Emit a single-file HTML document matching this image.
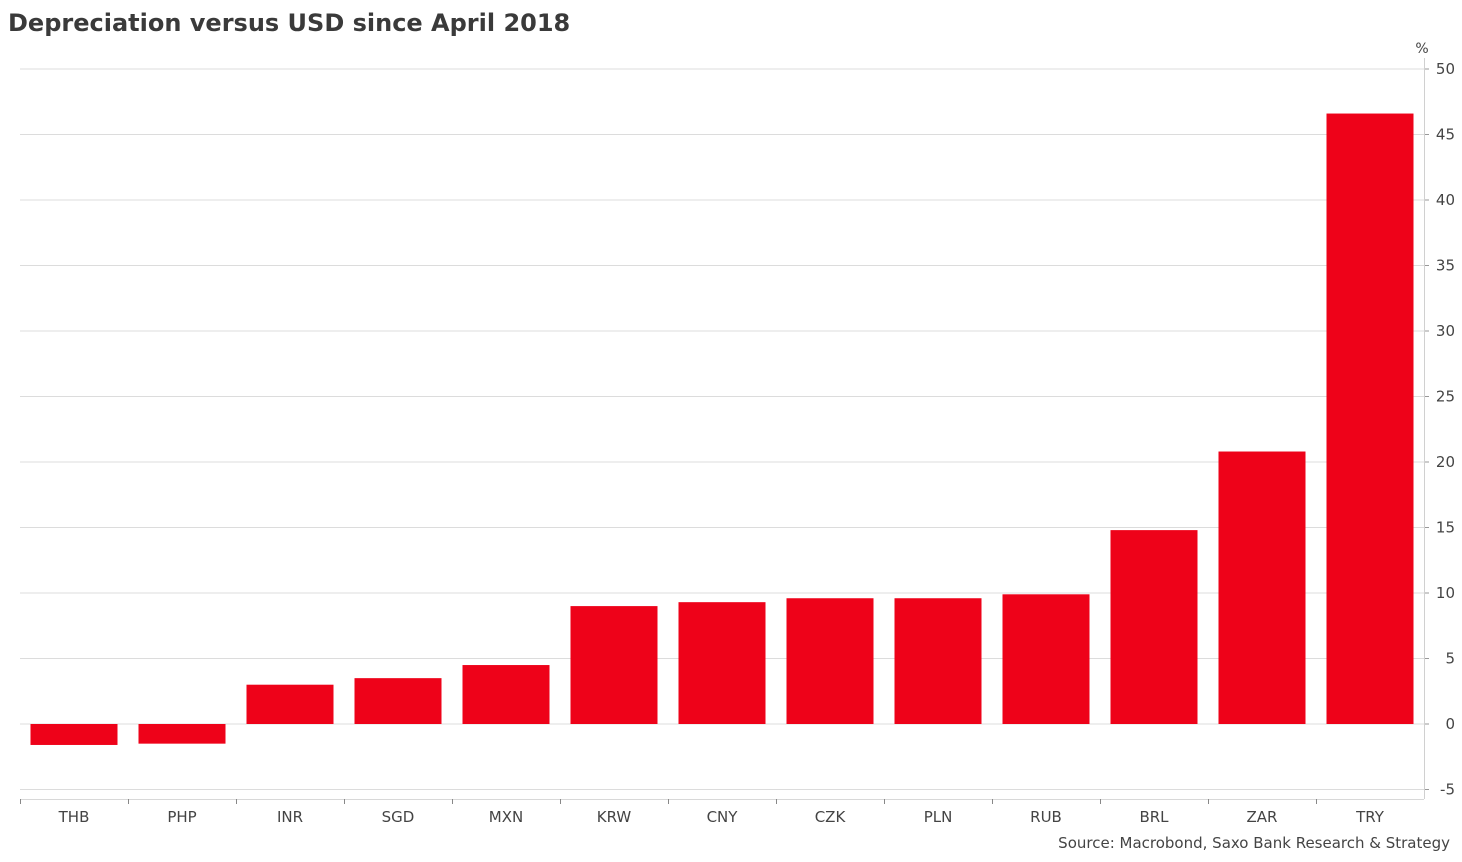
<!DOCTYPE html>
<html><head><meta charset="utf-8"><style>
html,body{margin:0;padding:0;background:#fff;width:1462px;height:862px;overflow:hidden}
text{font-family:"DejaVu Sans","Liberation Sans",sans-serif}
</style></head><body>
<svg width="1462" height="862">
<text x="8" y="31" font-size="24" font-weight="bold" fill="#3a3a3a">Depreciation versus USD since April 2018</text>
<text x="1422" y="53" font-size="14" fill="#444" text-anchor="middle">%</text>
<g id="grid"></g><g id="bars"></g><g id="axes"></g>
<text x="1450" y="848" font-size="15" fill="#444" text-anchor="end">Source: Macrobond, Saxo Bank Research &amp; Strategy</text>
</svg>
<script>
const categories=["THB","PHP","INR","SGD","MXN","KRW","CNY","CZK","PLN","RUB","BRL","ZAR","TRY"];
const values=[-1.6,-1.5,3.0,3.5,4.5,9.0,9.3,9.6,9.6,9.9,14.8,20.8,46.6];
const yTicks=[-5,0,5,10,15,20,25,30,35,40,45,50];
const NS="http://www.w3.org/2000/svg";
const L=20,R=1424,y0=724,pxPer=13.1;
const y=v=>y0-v*pxPer;
const band=(R-L)/categories.length;
const x=i=>L+i*band;
function mk(t,a,p){const e=document.createElementNS(NS,t);for(const k in a)e.setAttribute(k,a[k]);p.appendChild(e);return e;}
const g=document.getElementById('grid'),b=document.getElementById('bars'),ax=document.getElementById('axes');
yTicks.forEach(t=>{
 const ln=mk('line',{x1:L,x2:R,y1:y(t),y2:y(t),stroke:'#dcdcdc','stroke-width':1},g);
 
 
 const tk=mk('line',{x1:R,x2:R+5,y1:y(t),y2:y(t),stroke:'#999'},ax);
 
 
 const tx=mk('text',{x:1455,y:y(t)+5,'font-size':15,fill:'#444','text-anchor':'end'},ax);
 tx.textContent=t;
 
 
});
const va=mk('line',{x1:R+0.5,x2:R+0.5,y1:58,y2:799,stroke:'#d0d0d0'},ax);


const ha=mk('line',{x1:L,x2:R,y1:799.5,y2:799.5,stroke:'#d8d8d8'},ax);


categories.forEach((c,i)=>{
 const v=values[i];
 const r=mk('rect',{x:x(i)+10.5,width:band-21,y:Math.min(y(v),y0),height:Math.abs(y(v)-y0),fill:'#ee0219'},b);
 
 
 const tk=mk('line',{x1:x(i)+0.5,x2:x(i)+0.5,y1:799,y2:804,stroke:'#888'},ax);
 
 
 const tx=mk('text',{x:x(i)+band/2,y:822,'font-size':15,fill:'#444','text-anchor':'middle'},ax);
 tx.textContent=c;
 
 
});
</script>
</body></html>
